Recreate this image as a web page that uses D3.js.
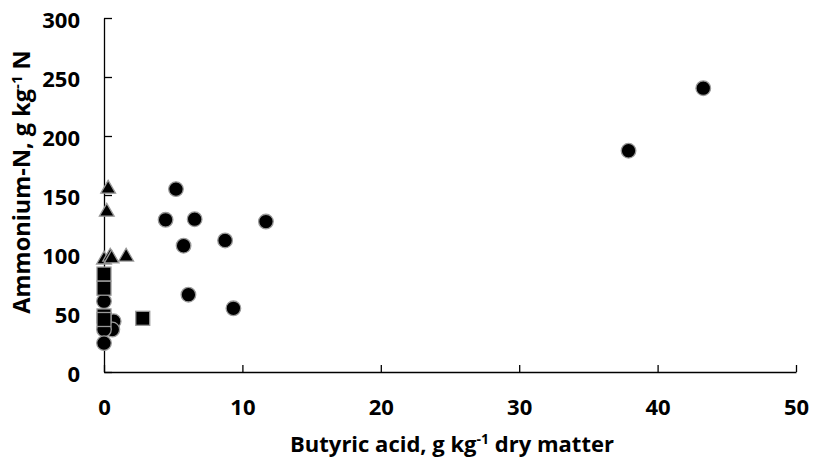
<!DOCTYPE html>
<html>
<head>
<meta charset="utf-8">
<script src="https://cdn.jsdelivr.net/npm/d3@7"></script>
<style>
  body { margin: 0; background: #fff; }
  svg { display: block; font-family: "Open Sans", Lato, sans-serif; font-weight: bold; }
</style>
</head>
<body>
<div id="chart"></div>
<script>
// Butyric acid vs ammonium-N, three silage groups
const circleX = [43.3, 37.9, 5.2, 4.45, 6.55, 11.7, 8.75, 5.75, 6.1, 9.35, 0, 0.7, 0.6, 0, 0];
const circleY = [240.5, 187.5, 155, 129, 129.5, 127.5, 111.5, 107, 65.5, 54, 60, 43, 36, 36, 24.5];
const squareX = [0, 0, 0, 0, 2.8];
const squareY = [83, 71, 47.5, 44.5, 45.5];
const triangleX = [0.3, 0.2, 0, 0.45, 0.55, 1.6];
const triangleY = [156, 136.5, 96, 98.5, 97, 98.5];

const xTicks = [0, 10, 20, 30, 40, 50];
const yTicks = [0, 50, 100, 150, 200, 250, 300];

const width = 815, height = 461;
const margin = {top: 18, right: 19, bottom: 89, left: 104};
const font = "'Open Sans', Lato, sans-serif";

const svg = d3.select("#chart")
  .append("svg")
    .attr("width", width)
    .attr("height", height);

const x = d3.scaleLinear().domain([0, 50]).range([margin.left, width - margin.right]);
const y = d3.scaleLinear().domain([0, 300]).range([height - margin.bottom, margin.top]);

// axes, ticks pointing inwards like the Excel original
const xAxis = svg.append("g")
    .attr("transform", `translate(0,${y(0)})`)
    .call(d3.axisBottom(x).tickValues(xTicks).tickSizeInner(-7).tickSizeOuter(0).tickPadding(27));

const yAxis = svg.append("g")
    .attr("transform", `translate(${x(0)},0)`)
    .call(d3.axisLeft(y).tickValues(yTicks).tickSizeInner(-8).tickSizeOuter(0).tickPadding(24));

[xAxis, yAxis].forEach(g => {
  g.selectAll("path, line").attr("stroke", "#000").attr("stroke-width", 1.3);
  g.selectAll("text").attr("font-size", 22).attr("font-family", font)
    .attr("font-weight", "bold").attr("fill", "#000");
});
yAxis.selectAll("text").attr("dy", "0.42em");

// markers
const stroke = "#9a9a9a";

svg.append("g")
  .selectAll("circle")
  .data(circleX.map((d, i) => [d, circleY[i]]))
  .join("circle")
    .attr("cx", d => x(d[0]))
    .attr("cy", d => y(d[1]))
    .attr("r", 7.3)
    .attr("fill", "#000")
    .attr("stroke", stroke)
    .attr("stroke-width", 1.3);

svg.append("g")
  .selectAll("rect")
  .data(squareX.map((d, i) => [d, squareY[i]]))
  .join("rect")
    .attr("x", d => x(d[0]) - 7)
    .attr("y", d => y(d[1]) - 7)
    .attr("width", 14)
    .attr("height", 14)
    .attr("fill", "#000")
    .attr("stroke", stroke)
    .attr("stroke-width", 1.3);

const tri = d3.symbol().type(d3.symbolTriangle).size(95);
svg.append("g")
  .selectAll("path")
  .data(triangleX.map((d, i) => [d, triangleY[i]]))
  .join("path")
    .attr("transform", d => `translate(${x(d[0])},${y(d[1]) + 1})`)
    .attr("d", tri)
    .attr("fill", "#000")
    .attr("stroke", stroke)
    .attr("stroke-width", 1.3);

// axis titles
const xTitle = svg.append("text")
    .attr("x", (x(0) + x(50)) / 2 + 2)
    .attr("y", 452)
    .attr("text-anchor", "middle")
    .attr("font-size", 22);
xTitle.append("tspan").text("Butyric acid, g kg");
xTitle.append("tspan").text("-1").attr("font-size", 14).attr("dy", -8);
xTitle.append("tspan").text(" dry matter").attr("dy", 8);

const yTitle = svg.append("text")
    .attr("transform", `translate(30,182) rotate(-90)`)
    .attr("text-anchor", "middle")
    .attr("font-size", 23.5);
yTitle.append("tspan").text("Ammonium-N, g kg");
yTitle.append("tspan").text("-1").attr("font-size", 15).attr("dy", -8);
yTitle.append("tspan").text(" N").attr("dy", 8);
</script>
</body>
</html>
